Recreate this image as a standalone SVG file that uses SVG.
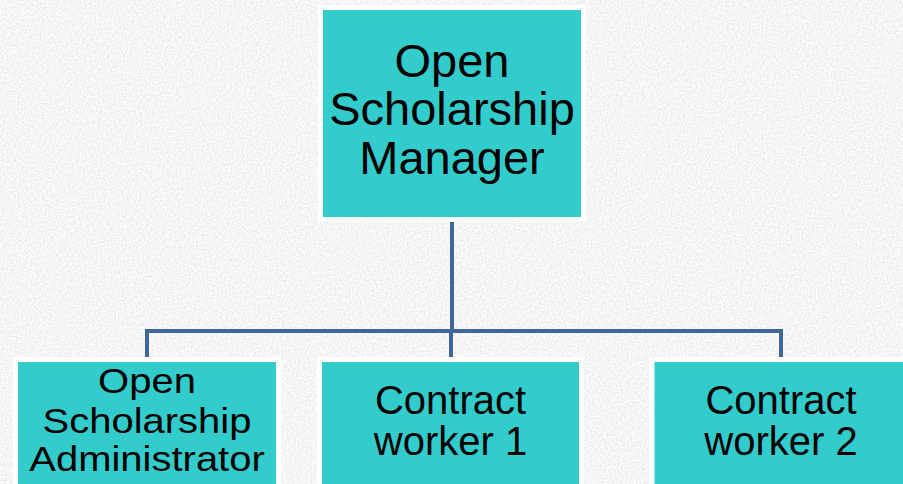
<svg xmlns="http://www.w3.org/2000/svg" width="903" height="484" viewBox="0 0 903 484">
<defs>
<filter id="tex" x="0" y="0" width="100%" height="100%">
<feTurbulence type="fractalNoise" baseFrequency="0.55" numOctaves="2" seed="3" result="n"/>
<feColorMatrix in="n" type="matrix" values="0.35 0 0 0 0.74  0.35 0 0 0 0.74  0.35 0 0 0 0.74  0 0 0 0 1"/>
</filter>
<style>
.box{fill:#33CCCC;stroke:#FFFFFF;stroke-width:5}
.lbl{font-family:"Liberation Sans",Arial,sans-serif;fill:#000000;text-anchor:middle}
.big{font-size:47px}
.small{font-size:40px}
.conn{fill:none;stroke:#41679A;stroke-width:4}
</style>
</defs>
<rect x="0" y="0" width="903" height="484" fill="#e8e8e8"/>
<rect x="0" y="0" width="903" height="484" filter="url(#tex)"/>
<g id="connectors">
<path class="conn" d="M452 222 V331"/>
<path class="conn" d="M147 358 V331 H781 V358"/>
<path class="conn" d="M451 331 V358"/>
</g>
<g id="manager">
<rect class="box" x="320.5" y="7.5" width="263" height="212"/>
<text class="lbl big" x="452" y="77">Open</text>
<text class="lbl big" x="452" y="125">Scholarship</text>
<text class="lbl big" x="452" y="174">Manager</text>
</g>
<g id="administrator">
<rect class="box" x="15.5" y="359.5" width="263" height="140"/>
<text class="lbl small" transform="translate(147 393) scale(1 0.86)">Open</text>
<text class="lbl small" transform="translate(147 433) scale(1 0.86)">Scholarship</text>
<text class="lbl small" transform="translate(147 471) scale(1 0.86)">Administrator</text>
</g>
<g id="worker1">
<rect class="box" x="319.5" y="359.5" width="262" height="140"/>
<text class="lbl small" x="450.5" y="414">Contract</text>
<text class="lbl small" x="450.5" y="455">worker 1</text>
</g>
<g id="worker2">
<rect class="box" x="652" y="359.5" width="270" height="140"/>
<text class="lbl small" x="781" y="414">Contract</text>
<text class="lbl small" x="781" y="455">worker 2</text>
</g>
</svg>
